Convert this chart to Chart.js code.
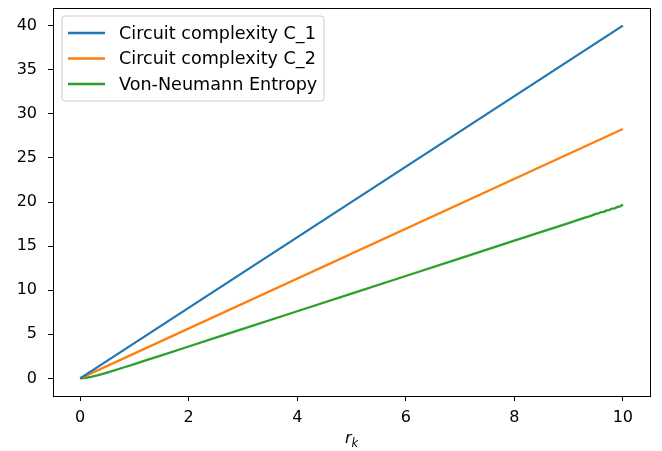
<!DOCTYPE html>
<html>
<head>
<meta charset="utf-8">
<script src="https://cdn.jsdelivr.net/npm/chart.js@4.4.1/dist/chart.umd.min.js"></script>
<style>
html,body{margin:0;padding:0;background:#fff;}
#wrap{width:662px;height:451px;}
</style>
</head>
<body>
<div id="wrap"><canvas id="c" width="662" height="451"></canvas></div>
<script>
// ---- data ----
const seriesNames = ["Circuit complexity C_1", "Circuit complexity C_2", "Von-Neumann Entropy"];
const rC = [0, 10];
const c1Values = [0, 40.0];
const c2Values = [0, 28.28];
const rS = [0, 0.1, 0.2, 0.3, 0.4, 0.5, 0.6, 0.8, 1.0, 1.25, 1.5, 2, 2.5, 3, 4, 5, 6, 7, 8, 9, 9.3, 9.4, 9.5, 9.55, 9.6, 9.65, 9.7, 9.75, 9.8, 9.85, 9.9, 9.95, 10];
const entropyValues = [0, 0.06, 0.17, 0.32, 0.48, 0.66, 0.84, 1.23, 1.62, 2.12, 2.61, 3.61, 4.62, 5.61, 7.61, 9.61, 11.61, 13.61, 15.61, 17.61, 18.22, 18.40, 18.66, 18.70, 18.86, 18.88, 19.05, 19.08, 19.25, 19.28, 19.44, 19.50, 19.72];
const xTicks = [0, 2, 4, 6, 8, 10];
const yTicks = [0, 5, 10, 15, 20, 25, 30, 35, 40];
const xTitle = { main: "r", sub: "k" };

const colors = ["#1f77b4", "#ff7f0e", "#2ca02c"];
const FONT = "DejaVu Sans";

function pts(xs, ys) { return xs.map((x, i) => ({ x: x, y: ys[i] })); }

const frameAndLegend = {
  id: "frameAndLegend",
  afterDraw(chart) {
    const ctx = chart.ctx;
    const a = chart.chartArea;
    ctx.save();
    // full axes frame
    ctx.strokeStyle = "#000";
    ctx.lineWidth = 1;
    ctx.strokeRect(Math.round(a.left) + 0.5, Math.round(a.top) + 0.5, Math.round(a.right - a.left), Math.round(a.bottom - a.top));
    // legend
    const lx = 62, ly = 16, lw = 262, lh = 85;
    ctx.beginPath();
    const r = 3;
    ctx.moveTo(lx + r, ly);
    ctx.arcTo(lx + lw, ly, lx + lw, ly + lh, r);
    ctx.arcTo(lx + lw, ly + lh, lx, ly + lh, r);
    ctx.arcTo(lx, ly + lh, lx, ly, r);
    ctx.arcTo(lx, ly, lx + lw, ly, r);
    ctx.closePath();
    ctx.fillStyle = "rgba(255,255,255,0.8)";
    ctx.fill();
    ctx.strokeStyle = "#cccccc";
    ctx.lineWidth = 1;
    ctx.stroke();
    const rows = [33, 58.5, 84];
    ctx.font = "17.6px '" + FONT + "'";
    ctx.textBaseline = "middle";
    ctx.textAlign = "left";
    chart.data.datasets.forEach((ds, i) => {
      ctx.strokeStyle = ds.borderColor;
      ctx.lineWidth = 2.3;
      ctx.beginPath();
      ctx.moveTo(68, rows[i]);
      ctx.lineTo(105, rows[i]);
      ctx.stroke();
      ctx.fillStyle = "#000";
      ctx.fillText(ds.label, 119, rows[i] + 1);
    });
    // x axis title r_k
    const cx = (a.left + a.right) / 2;
    ctx.fillStyle = "#000";
    ctx.textBaseline = "alphabetic";
    ctx.font = "italic 16px '" + FONT + "'";
    const wr = ctx.measureText(xTitle.main).width;
    ctx.font = "italic 11.5px '" + FONT + "'";
    const wk = ctx.measureText(xTitle.sub).width;
    const x0 = cx - (wr + wk) / 2;
    ctx.font = "italic 16px '" + FONT + "'";
    ctx.fillText(xTitle.main, x0, 443);
    ctx.font = "italic 11.5px '" + FONT + "'";
    ctx.fillText(xTitle.sub, x0 + wr, 447);
    ctx.restore();
  }
};

new Chart(document.getElementById("c"), {
  type: "line",
  data: {
    datasets: [
      { label: seriesNames[0], data: pts(rC, c1Values), borderColor: colors[0] },
      { label: seriesNames[1], data: pts(rC, c2Values), borderColor: colors[1] },
      { label: seriesNames[2], data: pts(rS, entropyValues), borderColor: colors[2] }
    ]
  },
  options: {
    responsive: false,
    devicePixelRatio: 1,
    animation: false,
    elements: {
      point: { radius: 0 },
      line: { borderWidth: 2.3, tension: 0, fill: false, borderCapStyle: "butt" }
    },
    layout: { padding: { top: 8, right: 12, left: 0, bottom: 0 } },
    plugins: { legend: { display: false }, tooltip: { enabled: false } },
    scales: {
      x: {
        type: "linear",
        min: -0.5, max: 10.5,
        afterBuildTicks(s) { s.ticks = xTicks.map(v => ({ value: v })); },
        afterFit(s) { s.height = 55; s.paddingLeft = 0; s.paddingRight = 0; },
        grid: { drawOnChartArea: false, drawTicks: true, tickLength: 5, color: "#000", tickWidth: 1 },
        border: { display: false },
        ticks: { color: "#000", font: { family: FONT, size: 16 }, padding: 7, maxRotation: 0, autoSkip: false }
      },
      y: {
        type: "linear",
        min: -2, max: 42,
        afterBuildTicks(s) { s.ticks = yTicks.map(v => ({ value: v })); },
        afterFit(s) { s.width = 53; s.paddingTop = 0; s.paddingBottom = 0; },
        grid: { drawOnChartArea: false, drawTicks: true, tickLength: 5, color: "#000", tickWidth: 1 },
        border: { display: false },
        ticks: { color: "#000", font: { family: FONT, size: 16 }, padding: 11, autoSkip: false }
      }
    }
  },
  plugins: [frameAndLegend]
});
</script>
</body>
</html>
